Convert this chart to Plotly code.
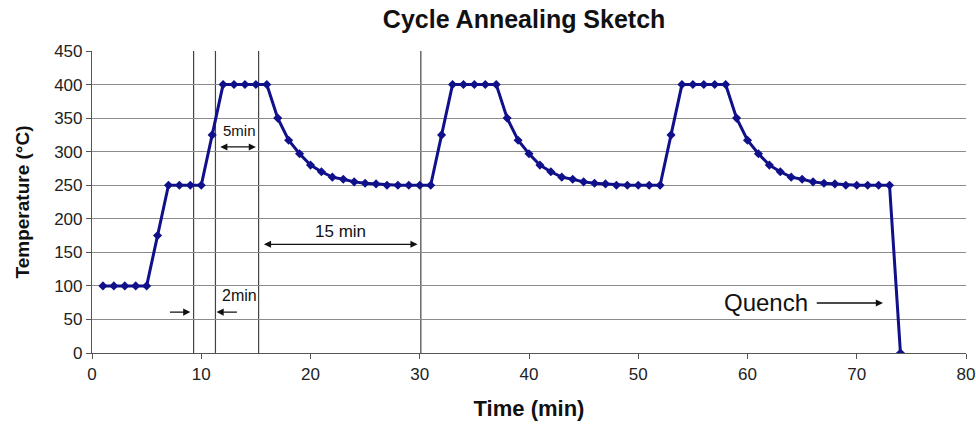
import plotly.graph_objects as go

time_min = [1, 2, 3, 4, 5, 6, 7, 8, 9, 10, 11, 12, 13, 14, 15, 16, 17, 18, 19, 20,
            21, 22, 23, 24, 25, 26, 27, 28, 29, 30, 31, 32, 33, 34, 35, 36, 37, 38, 39, 40,
            41, 42, 43, 44, 45, 46, 47, 48, 49, 50, 51, 52, 53, 54, 55, 56, 57, 58, 59, 60,
            61, 62, 63, 64, 65, 66, 67, 68, 69, 70, 71, 72, 73, 74]
temperature = [100, 100, 100, 100, 100, 175, 250, 250, 250, 250, 325,
               400, 400, 400, 400, 400,
               350, 317, 297, 280, 270, 262, 259, 255, 253, 252, 250, 250, 250, 250, 250,
               325, 400, 400, 400, 400, 400,
               350, 317, 297, 280, 270, 262, 259, 255, 253, 252, 250, 250, 250, 250, 250,
               325, 400, 400, 400, 400, 400,
               350, 317, 297, 280, 270, 262, 259, 255, 253, 252, 250, 250, 250, 250, 250,
               0]

marker_lines_x = [9.3, 11.3, 15.25, 30.1]

x_ticks = [0, 10, 20, 30, 40, 50, 60, 70, 80]
y_ticks = [0, 50, 100, 150, 200, 250, 300, 350, 400, 450]

navy = "#10108a"
font_family = "Liberation Sans, Arial, sans-serif"

fig = go.Figure()
fig.add_trace(go.Scatter(
    x=time_min, y=temperature, mode="lines+markers",
    line=dict(color=navy, width=3),
    marker=dict(symbol="diamond", size=7, color=navy),
    showlegend=False, hoverinfo="x+y",
))

shapes = []
for xv in marker_lines_x:
    shapes.append(dict(type="line", xref="x", yref="paper", x0=xv, x1=xv, y0=0, y1=1,
                       line=dict(color="#444444", width=1.2), layer="below"))

annots = []
def arrow(x_head, y_head, x_tail, y_tail, both=False):
    annots.append(dict(x=x_head, y=y_head, ax=x_tail, ay=y_tail, xref="x", yref="y",
                       axref="x", ayref="y", text="", showarrow=True,
                       arrowhead=2, startarrowhead=2, arrowsize=1.1, startarrowsize=1.1,
                       arrowwidth=1.3, arrowcolor="#111111",
                       arrowside="end+start" if both else "end"))

def label(x, y, text, size=14):
    annots.append(dict(x=x, y=y, xref="x", yref="y", text=text, showarrow=False,
                       font=dict(family=font_family, size=size, color="#111111")))

arrow(15.0, 307, 11.6, 307, both=True)
label(13.5, 331, "5min", 15)
arrow(29.8, 162, 15.6, 162, both=True)
label(22.7, 181, "15 min", 17)
arrow(9.0, 61, 7.0, 61)
arrow(11.4, 61, 13.4, 61)
label(13.5, 85, "2min", 16)
arrow(72.4, 74.5, 66.2, 74.5)
label(61.7, 76, "Quench", 24)

fig.update_layout(
    width=976, height=430,
    margin=dict(l=92, r=10, t=51, b=77),
    paper_bgcolor="white", plot_bgcolor="white",
    font=dict(family=font_family, color="#111111"),
    title=dict(text="<b>Cycle Annealing Sketch</b>", x=0.537, xanchor="center",
               y=0.955, yanchor="middle", font=dict(size=25, color="#111111")),
    shapes=shapes, annotations=annots,
    xaxis=dict(range=[0, 80], tickvals=x_ticks, showgrid=False, zeroline=False,
               automargin=False,
               showline=True, linecolor="#555555", linewidth=1.2,
               ticks="outside", ticklen=5, tickcolor="#555555",
               tickfont=dict(size=17, color="#222222"),
               title=dict(text="<b>Time (min)</b>", font=dict(size=22), standoff=18)),
    yaxis=dict(range=[0, 450], tickvals=y_ticks, showgrid=True, gridcolor="#8c8c8c",
               gridwidth=1.3, zeroline=False, automargin=False,
               showline=True, linecolor="#555555", linewidth=1.2,
               ticks="outside", ticklen=5, tickcolor="#555555",
               tickfont=dict(size=17, color="#222222"),
               title=dict(text="<b>Temperature (°C)</b>", font=dict(size=19), standoff=19)),
)

fig.write_html("out.html")
